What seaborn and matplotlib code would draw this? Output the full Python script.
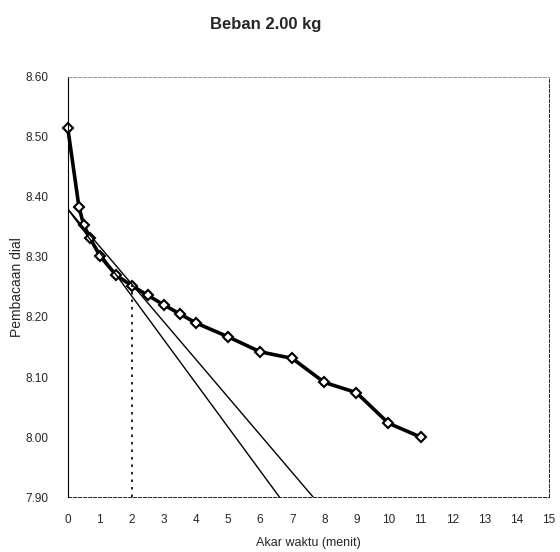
import matplotlib
matplotlib.use("Agg")
import matplotlib.pyplot as plt
import seaborn as sns
import pandas as pd

# Data
akar_waktu = [0, 0.35, 0.5, 0.7, 1.0, 1.5, 2.0, 2.5, 3.0, 3.5, 4.0, 5.0, 6.0, 7.0, 8.0, 9.0, 10.0, 11.0]
pembacaan = [8.515, 8.383, 8.353, 8.331, 8.302, 8.270, 8.252, 8.236, 8.220, 8.205,
             8.190, 8.167, 8.142, 8.131, 8.091, 8.074, 8.023, 8.000]

garis1_x = [0, 6.6]
garis1_y = [8.38, 7.90]
garis2_x = [0, 7.65]
garis2_y = [8.38, 7.90]
titik_x = [2.0, 2.0]
titik_y = [7.90, 8.254]

x_ticks = list(range(0, 16))
y_ticks = [7.90, 8.00, 8.10, 8.20, 8.30, 8.40, 8.50, 8.60]
y_labels = ["7.90", "8.00", "8.10", "8.20", "8.30", "8.40", "8.50", "8.60"]

sns.set_style("white")
plt.rcParams['font.family'] = ['Liberation Sans', 'DejaVu Sans']

fig = plt.figure(figsize=(5.6, 5.52), dpi=100)
ax = fig.add_axes([0.121, 0.0996, 0.859, 0.761])

df = pd.DataFrame({"x": akar_waktu, "y": pembacaan})
sns.lineplot(data=df, x="x", y="y", ax=ax, color="black", linewidth=2.6,
             marker="D", markersize=5, markerfacecolor="white",
             markeredgecolor="black", markeredgewidth=1.5, sort=False, clip_on=False)
sns.lineplot(x=garis1_x, y=garis1_y, ax=ax, color="black", linewidth=1.0)
sns.lineplot(x=garis2_x, y=garis2_y, ax=ax, color="black", linewidth=1.0)
ax.plot(titik_x, titik_y, color="black", linewidth=1.2, linestyle=(0, (1.5, 3)))

ax.set_xlim(0, 15)
ax.set_ylim(7.90, 8.60)
ax.set_xticks(x_ticks)
ax.set_yticks(y_ticks)
ax.set_yticklabels(y_labels)
ax.tick_params(axis="both", labelsize=8.5, length=2, width=0.6, color="black", pad=10)
ax.tick_params(axis="y", pad=12)

for side in ["top", "right", "bottom"]:
    ax.spines[side].set_visible(True)
    ax.spines[side].set_color("black")
    ax.spines[side].set_linewidth(0.6)
    ax.spines[side].set_linestyle((0, (4, 2)))
ax.spines["top"].set_color("#888888")
ax.spines["left"].set_color("black")
ax.spines["left"].set_linewidth(0.8)

ax.set_xlabel("Akar waktu (menit)", fontsize=9, labelpad=8)
ax.set_ylabel("Pembacaan dial", fontsize=10, labelpad=1)
fig.text(266/560, 1 - 25/552, "Beban 2.00 kg", fontsize=12, fontweight="bold",
         ha="center", va="center")

fig.savefig("out.png", dpi=100)
